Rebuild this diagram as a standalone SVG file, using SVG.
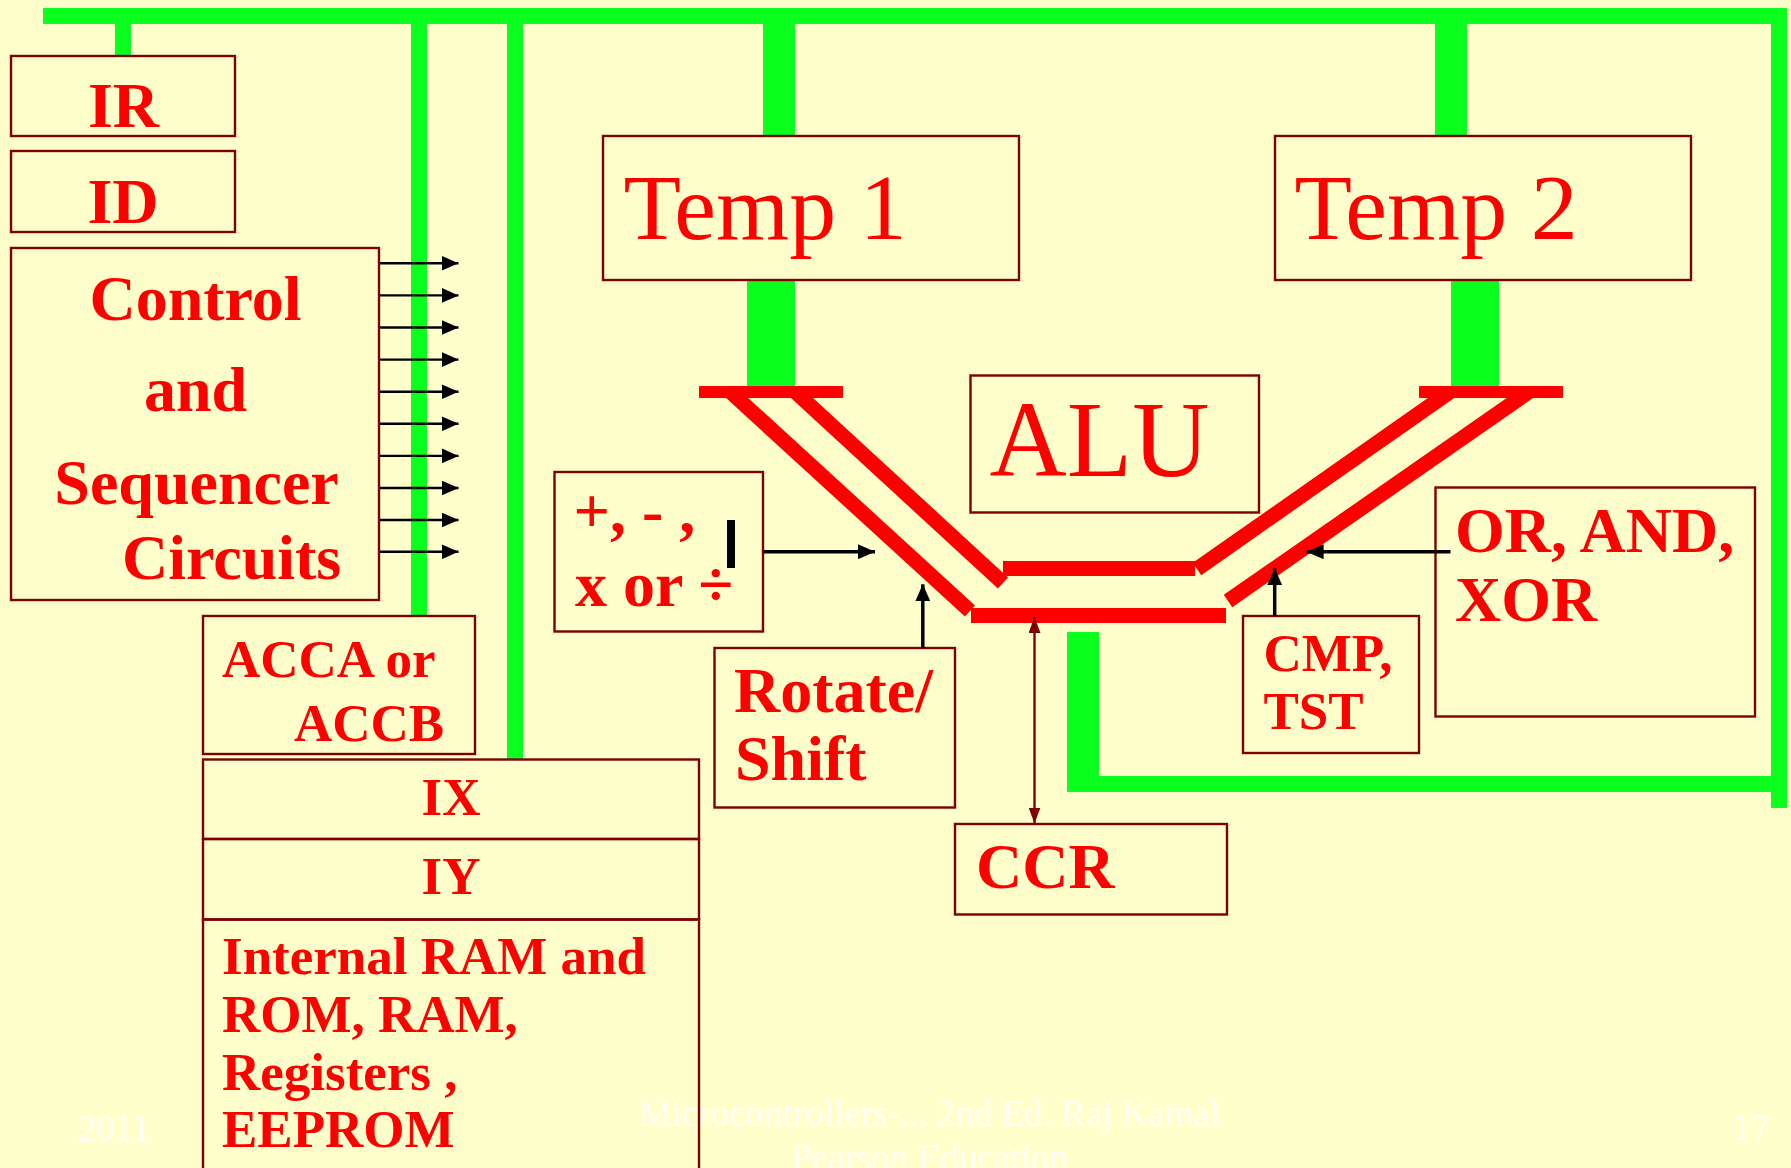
<svg xmlns="http://www.w3.org/2000/svg" width="1791" height="1168" viewBox="0 0 1791 1168">
<style>
.box{fill:none;stroke:#800000;stroke-width:2.4}
.bus{fill:#0AFF1E}
.alu{stroke:#FF0000;stroke-width:15;fill:none;stroke-linecap:butt}
.bar{fill:#FF0000}
.t{font-family:"Liberation Serif","Times New Roman",serif;fill:#FF0000}
.bd{font-weight:bold}
.f64{font-size:64px}
.f52{font-size:53px}
.foot{font-family:"Liberation Serif","Times New Roman",serif;font-size:37px;fill:#FFFFF4}
.arr{stroke:#000000;stroke-width:3.5;fill:none}
.carr{stroke:#000000;stroke-width:2.4;fill:none}
</style>
<defs>
<marker id="ah" markerUnits="userSpaceOnUse" markerWidth="17" markerHeight="15" refX="17" refY="7.5" orient="auto">
<path d="M0,0 L17,7.5 L0,15 Z" fill="#000000"/>
</marker>
<marker id="ahr" markerUnits="userSpaceOnUse" markerWidth="16" markerHeight="12" refX="16" refY="6" orient="auto-start-reverse">
<path d="M0,0 L16,6 L0,12 Z" fill="#800000"/>
</marker>
</defs>
<rect x="0" y="0" width="1791" height="1168" fill="#FFFFCC"/>

<g id="footer">
<text class="foot" x="930" y="1126" text-anchor="middle">Microcontrollers-... 2nd Ed. Raj Kamal</text>
<text class="foot" x="930" y="1170" text-anchor="middle">Pearson Education</text>
<text class="foot" x="78" y="1141">2011</text>
<text class="foot" x="1733" y="1140">17</text>
</g>

<g id="buses">
<rect class="bus" x="43" y="8" width="1744" height="16"/>
<rect class="bus" x="115" y="23" width="16" height="33"/>
<rect class="bus" x="411" y="23" width="16" height="593"/>
<rect class="bus" x="507" y="23" width="16" height="737"/>
<rect class="bus" x="763" y="23" width="32" height="114"/>
<rect class="bus" x="1435" y="23" width="32" height="114"/>
<rect class="bus" x="747" y="280" width="48" height="107"/>
<rect class="bus" x="1451" y="280" width="48" height="107"/>
<rect class="bus" x="1771" y="8" width="16" height="800"/>
<rect class="bus" x="1067" y="632" width="32" height="160"/>
<rect class="bus" x="1067" y="776" width="720" height="16"/>
</g>

<g id="alu-paths">
<rect class="bar" x="699" y="386" width="144" height="12"/>
<rect class="bar" x="1419" y="386" width="144" height="12"/>
<rect class="bar" x="1003" y="561" width="192" height="15"/>
<rect class="bar" x="971" y="608" width="255" height="15"/>
<line class="alu" x1="730.6" y1="392" x2="970" y2="611"/>
<line class="alu" x1="795.5" y1="392" x2="1003" y2="583"/>
<line class="alu" x1="1449.6" y1="392" x2="1197" y2="569"/>
<line class="alu" x1="1528.6" y1="392" x2="1228" y2="601"/>
</g>

<g id="IR">
<rect class="box" x="11" y="56" width="224" height="80"/>
<text class="t bd f64" x="123.5" y="127" text-anchor="middle">IR</text>
</g>
<g id="ID">
<rect class="box" x="11" y="151" width="224" height="81"/>
<text class="t bd f64" x="123" y="222.5" text-anchor="middle">ID</text>
</g>
<g id="control">
<rect class="box" x="11" y="248" width="368" height="352"/>
<text class="t bd f64" x="195.5" y="320" text-anchor="middle">Control</text>
<text class="t bd f64" x="195.5" y="411" text-anchor="middle">and</text>
<text class="t bd f64" x="196.5" y="504" text-anchor="middle">Sequencer</text>
<text class="t bd f64" x="122" y="579">Circuits</text>
</g>
<g id="acc">
<rect class="box" x="203" y="616" width="272" height="138"/>
<text class="t bd f52" x="222" y="677">ACCA or</text>
<text class="t bd f52" x="294" y="740.5">ACCB</text>
</g>
<g id="IX">
<rect class="box" x="203" y="759.5" width="496" height="79.5"/>
<text class="t bd f52" x="451" y="814.5" text-anchor="middle">IX</text>
</g>
<g id="IY">
<rect class="box" x="203" y="839" width="496" height="80.5"/>
<text class="t bd f52" x="451" y="894" text-anchor="middle">IY</text>
</g>
<g id="memory">
<rect class="box" x="203" y="919.5" width="496" height="270"/>
<text class="t bd f52" x="222" y="974">Internal RAM and</text>
<text class="t bd f52" x="222" y="1032">ROM, RAM,</text>
<text class="t bd f52" x="222" y="1089.5">Registers ,</text>
<text class="t bd f52" x="222" y="1147">EEPROM</text>
</g>
<g id="temp1">
<rect class="box" x="603" y="136" width="416" height="144"/>
<text class="t" font-size="94" x="623.5" y="238.5">Temp 1</text>
</g>
<g id="temp2">
<rect class="box" x="1275" y="136" width="416" height="144"/>
<text class="t" font-size="94" x="1294.5" y="238.5">Temp 2</text>
</g>
<g id="ALU">
<rect class="box" x="970.5" y="375.5" width="288.5" height="137"/>
<text class="t" font-size="107" x="989.5" y="475.5">ALU</text>
</g>
<g id="arith">
<rect class="box" x="554.5" y="472" width="208.5" height="159.5"/>
<text class="t bd f64" x="573.5" y="532">+, - ,</text>
<text class="t bd f64" x="575" y="605.5">x or ÷</text>
<rect x="727" y="520" width="8" height="48" fill="#000000"/>
</g>
<g id="rotate">
<rect class="box" x="714.5" y="648" width="240.5" height="159.5"/>
<text class="t bd f64" x="734" y="711.5">Rotate/</text>
<text class="t bd f64" x="735" y="780">Shift</text>
</g>
<g id="CCR">
<rect class="box" x="955" y="824" width="272" height="90.5"/>
<text class="t bd f64" x="976" y="888">CCR</text>
</g>
<g id="cmp">
<rect class="box" x="1243" y="616" width="176" height="137"/>
<text class="t bd f52" x="1263.5" y="671">CMP,</text>
<text class="t bd f52" x="1263.5" y="729">TST</text>
</g>
<g id="logic">
<rect class="box" x="1435.5" y="487.5" width="319.5" height="229"/>
<text class="t bd f64" x="1455" y="551.5">OR, AND,</text>
<text class="t bd f64" x="1455" y="620.5">XOR</text>
</g>

<g id="connectors">
<line class="carr" x1="380" y1="263.3" x2="458.5" y2="263.3" marker-end="url(#ah)"/>
<line class="carr" x1="380" y1="295.4" x2="458.5" y2="295.4" marker-end="url(#ah)"/>
<line class="carr" x1="380" y1="327.5" x2="458.5" y2="327.5" marker-end="url(#ah)"/>
<line class="carr" x1="380" y1="359.6" x2="458.5" y2="359.6" marker-end="url(#ah)"/>
<line class="carr" x1="380" y1="391.7" x2="458.5" y2="391.7" marker-end="url(#ah)"/>
<line class="carr" x1="380" y1="423.8" x2="458.5" y2="423.8" marker-end="url(#ah)"/>
<line class="carr" x1="380" y1="455.9" x2="458.5" y2="455.9" marker-end="url(#ah)"/>
<line class="carr" x1="380" y1="488" x2="458.5" y2="488" marker-end="url(#ah)"/>
<line class="carr" x1="380" y1="520" x2="458.5" y2="520" marker-end="url(#ah)"/>
<line class="carr" x1="380" y1="551.8" x2="458.5" y2="551.8" marker-end="url(#ah)"/>
<line class="arr" x1="763" y1="551.7" x2="875" y2="551.7" marker-end="url(#ah)"/>
<line class="arr" x1="922.8" y1="648" x2="922.8" y2="584.3" marker-end="url(#ah)"/>
<line class="arr" x1="1450.5" y1="551.7" x2="1306.6" y2="551.7" marker-end="url(#ah)"/>
<line class="arr" x1="1274.7" y1="616" x2="1274.7" y2="568.3" marker-end="url(#ah)"/>
<line stroke="#800000" stroke-width="2.4" x1="1034.5" y1="617" x2="1034.5" y2="823.5" marker-start="url(#ahr)" marker-end="url(#ahr)"/>
</g>
</svg>
